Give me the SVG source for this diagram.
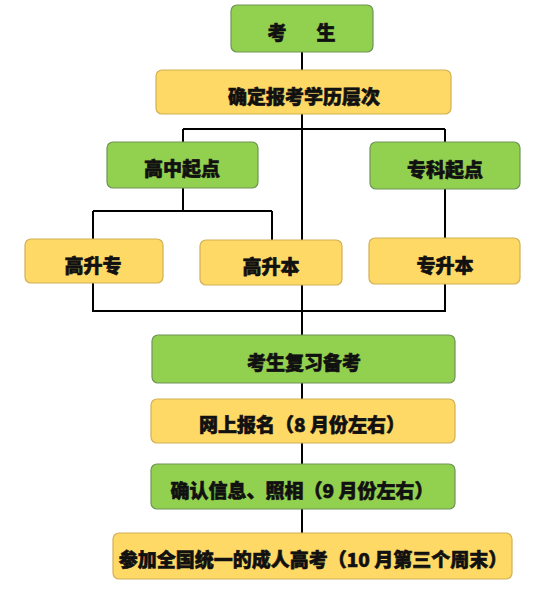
<svg xmlns="http://www.w3.org/2000/svg" width="549" height="591" viewBox="0 0 549 591">
<style>
.g{fill:#92D050;stroke:#6E9456;stroke-width:1.2}
.y{fill:#FFD966;stroke:#D2B055;stroke-width:1.2}
.t{font-family:"Noto Sans CJK SC","Noto Sans",sans-serif;font-weight:900;font-size:19px;fill:#111;stroke:#111;stroke-width:0.6;text-anchor:middle;dominant-baseline:central}
.c{fill:none;stroke:#000;stroke-width:2}
</style>
<rect width="549" height="591" fill="#fff"/>
<g id="connectors">
<path class="c" d="M302 52V335"/>
<path class="c" d="M183 129H445"/>
<path class="c" d="M183 129V142M183 188V211M93 211H272M93 211V239M272 211V240"/>
<path class="c" d="M445 129V142M445 189V238"/>
<path class="c" d="M93 283V311H445V284"/>
<path class="c" d="M302 383V399M302 443V464M302 509V533"/>
</g>
<g id="n-kaosheng"><rect class="g" x="231" y="5" width="142" height="47" rx="6"/><text class="t" x="302" y="31"><tspan x="277">考</tspan><tspan x="326">生</tspan></text></g>
<g id="n-queding"><rect class="y" x="156" y="70" width="295" height="44" rx="6"/><text class="t" x="304" y="95">确定报考学历层次</text></g>
<g id="n-gaozhong"><rect class="g" x="107" y="142" width="151" height="46" rx="6"/><text class="t" x="182" y="167">高中起点</text></g>
<g id="n-zhuanke"><rect class="g" x="370" y="142" width="150" height="47" rx="6"/><text class="t" x="445" y="168">专科起点</text></g>
<g id="n-gaoshengzhuan"><rect class="y" x="25" y="239" width="138" height="44" rx="6"/><text class="t" x="93" y="264">高升专</text></g>
<g id="n-gaoshengben"><rect class="y" x="200" y="240" width="142" height="45" rx="6"/><text class="t" x="271" y="265">高升本</text></g>
<g id="n-zhuanshengben"><rect class="y" x="369" y="238" width="151" height="46" rx="6"/><text class="t" x="445" y="264">专升本</text></g>
<g id="n-fuxi"><rect class="g" x="152" y="335" width="303" height="48" rx="6"/><text class="t" x="304" y="361">考生复习备考</text></g>
<g id="n-baoming"><rect class="y" x="151" y="399" width="304" height="44" rx="6"/><text class="t" x="302" y="423">网上报名（8 月份左右）</text></g>
<g id="n-queren"><rect class="g" x="151" y="464" width="304" height="45" rx="6"/><text class="t" x="302" y="489">确认信息、照相（9 月份左右）</text></g>
<g id="n-kaoshi"><rect class="y" x="113" y="533" width="399" height="46" rx="6"/><text class="t" x="313" y="558">参加全国统一的成人高考（10 月第三个周末）</text></g>
</svg>
